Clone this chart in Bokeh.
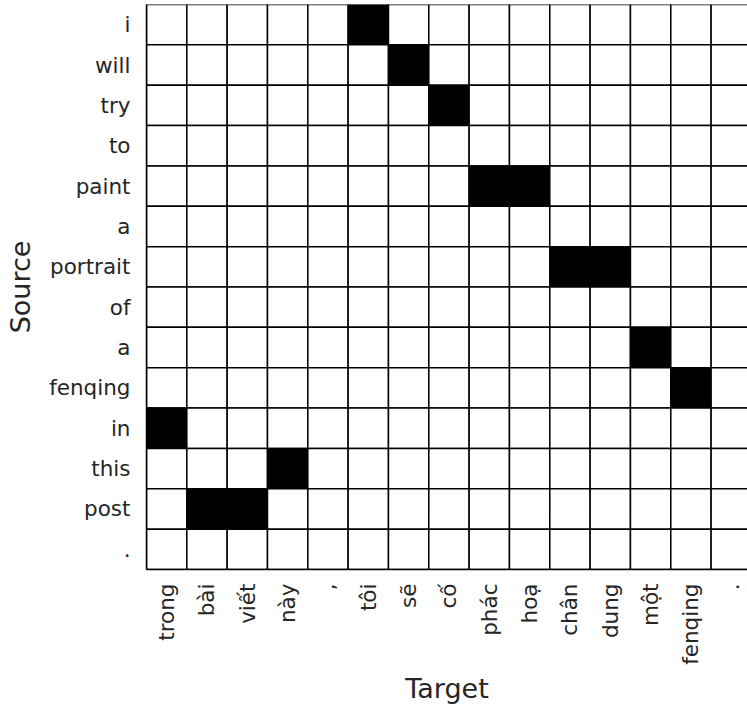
import math
from bokeh.plotting import figure
from bokeh.models import ColumnDataSource, FixedTicker, Range1d
from bokeh.embed import file_html
from bokeh.resources import INLINE

# ---- data ----
source_words = ["i", "will", "try", "to", "paint", "a", "portrait", "of",
                "a", "fenqing", "in", "this", "post", "."]
target_words = ["trong", "bài", "viết", "này", ",", "tôi", "sẽ", "cố",
                "phác", "hoạ", "chân", "dung", "một", "fenqing", "."]
# alignment links: source index -> target index
align_source = [0, 1, 2, 4, 4, 6, 6, 8, 9, 10, 11, 12, 12]
align_target = [5, 6, 7, 8, 9, 10, 11, 12, 13, 0, 3, 1, 2]

n_src = len(source_words)
n_tgt = len(target_words)
links = set(zip(align_source, align_target))

xs, ys, colors = [], [], []
for i in range(n_src):
    for j in range(n_tgt):
        xs.append(j + 0.5)
        ys.append(i + 0.5)
        colors.append("black" if (i, j) in links else "white")
src = ColumnDataSource(dict(x=xs, y=ys, c=colors))

FONT = "DejaVu Sans"
W, H = 747, 706
left, right, top, bottom = 146, 0, 4, 135
frame_w = W - left - right
col_px = 40.33

p = figure(width=W, height=H, output_backend="svg", toolbar_location=None,
           x_range=Range1d(0, frame_w / col_px), y_range=Range1d(n_src, 0),
           min_border_left=left, min_border_right=right,
           min_border_top=top, min_border_bottom=bottom,
           x_axis_label="Target", y_axis_label="Source")
p.rect(x="x", y="y", width=1, height=1, source=src, fill_color="c",
       line_color="black", line_width=1.5)

p.grid.visible = False
p.outline_line_color = None
p.background_fill_color = "white"
p.border_fill_color = "white"

p.xaxis.ticker = FixedTicker(ticks=[j + 0.5 for j in range(n_tgt)])
p.xaxis.major_label_overrides = {j + 0.5: w for j, w in enumerate(target_words)}
p.yaxis.ticker = FixedTicker(ticks=[i + 0.5 for i in range(n_src)])
p.yaxis.major_label_overrides = {i + 0.5: w for i, w in enumerate(source_words)}
p.xaxis.major_label_orientation = math.pi / 2

for ax in (p.xaxis, p.yaxis):
    ax.major_tick_out = 0
    ax.major_tick_in = 0
    ax.minor_tick_out = 0
    ax.minor_tick_in = 0
    ax.axis_line_color = "black"
    ax.axis_line_width = 1.5
    ax.major_label_text_font = FONT
    ax.major_label_text_font_size = "21.5px"
    ax.major_label_text_color = "#262626"
    ax.axis_label_text_font = FONT
    ax.axis_label_text_font_size = "27px"
    ax.axis_label_text_font_style = "normal"
    ax.axis_label_text_color = "#262626"

p.xaxis.major_label_standoff = 14
p.yaxis.major_label_standoff = 16
p.xaxis.axis_label_standoff = 5
p.yaxis.axis_label_standoff = 10

open("out.html", "w").write(file_html(p, INLINE))
